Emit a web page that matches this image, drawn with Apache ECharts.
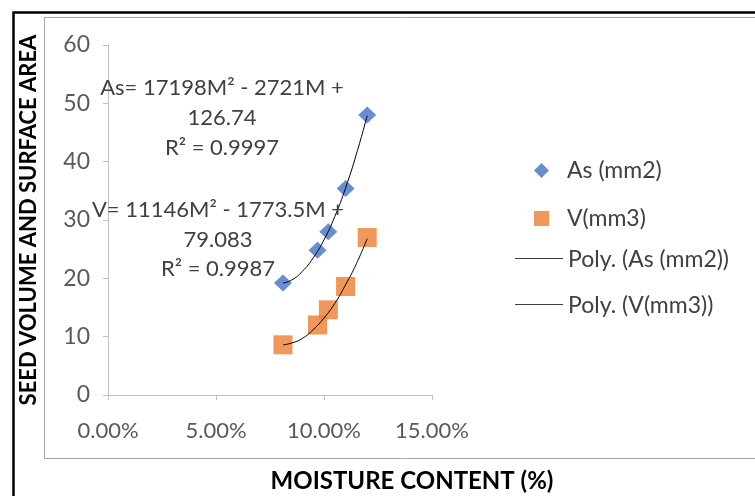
<!DOCTYPE html>
<html>
<head>
<meta charset="utf-8">
<script src="https://cdn.jsdelivr.net/npm/echarts@6/dist/echarts.min.js"></script>
<style>
html,body{margin:0;padding:0;background:#fff;}
#chart{width:755px;height:496px;}
</style>
</head>
<body>
<div id="chart"></div>
<script>
// ---- data ----
const moisture = [0.081, 0.097, 0.102, 0.110, 0.120];
const asValues = [19.2, 24.8, 28.0, 35.4, 48.0];
const vValues = [8.6, 12.0, 14.6, 18.6, 27.0];
// trend line points
const trendX = [0.081, 0.085, 0.090, 0.095, 0.100, 0.105, 0.110, 0.115, 0.120];
const asTrend = [19.2, 19.7, 21.2, 23.5, 26.6, 30.6, 35.5, 41.3, 47.9];
const vTrend = [8.6, 8.9, 9.7, 11.2, 13.2, 15.7, 18.9, 22.5, 26.8];
const seriesNames = ['As (mm2)', 'V(mm3)', 'Poly. (As (mm2))', 'Poly. (V(mm3))'];
const xTitle = 'MOISTURE CONTENT (%)';
const yTitle = 'SEED VOLUME AND SURFACE AREA';
const asEquation = ['As= 17198M\u00B2 - 2721M +', '126.74', 'R\u00B2 = 0.9997'];
const vEquation = ['V= 11146M\u00B2 - 1773.5M +', '79.083', 'R\u00B2 = 0.9987'];

const pair = (xs, ys) => xs.map((x, i) => [x, ys[i]]);
const FONT = 'Lato';
const LINE_ICON = 'path://M0,0L0.01,0Z M0,5.5H48V6.5H0Z M0,14L0.01,14Z';

const chart = echarts.init(document.getElementById('chart'), null, {renderer: 'canvas'});

function eqText(lines, cx, y0, gap) {
  return lines.map((t, i) => ({
    type: 'text', silent: true, z: 10,
    x: cx, y: y0 + i * gap,
    style: {text: t, fill: '#404040', font: '22px ' + FONT, textAlign: 'center', textVerticalAlign: 'middle'}
  }));
}

const option = {
  animation: false,
  backgroundColor: '#fff',
  grid: {left: 108, right: 323, top: 45, bottom: 101},
  xAxis: {
    type: 'value', min: 0, max: 0.15, interval: 0.05,
    axisLine: {show: true, lineStyle: {color: '#bfbfbf', width: 1}},
    axisTick: {show: true, length: 5, lineStyle: {color: '#bfbfbf'}},
    splitLine: {show: false},
    axisLabel: {fontFamily: FONT, fontSize: 22, color: '#595959', margin: 25,
      formatter: v => (v * 100).toFixed(2) + '%'}
  },
  yAxis: {
    type: 'value', min: 0, max: 60, interval: 10,
    name: yTitle, nameLocation: 'middle', nameGap: 68, nameRotate: 90,
    nameTextStyle: {fontFamily: FONT, fontWeight: 'bold', fontSize: 22, color: '#000'},
    axisLine: {show: true, lineStyle: {color: '#bfbfbf', width: 1}},
    axisTick: {show: true, length: 5, lineStyle: {color: '#bfbfbf'}},
    splitLine: {show: false},
    axisLabel: {fontFamily: FONT, fontSize: 23, color: '#595959', margin: 18}
  },
  legend: [
    {
      orient: 'vertical', left: 529, top: 154, itemWidth: 15, itemHeight: 15, itemGap: 25,
      data: [{name: seriesNames[0], icon: 'diamond'}, {name: seriesNames[1], icon: 'rect'}],
      textStyle: {fontFamily: FONT, fontSize: 23, color: '#404040', padding: [0, 0, 0, 13]},
      selectedMode: false
    },
    {
      orient: 'vertical', left: 510, top: 243, itemWidth: 48, itemHeight: 14, itemGap: 23,
      data: [{name: seriesNames[2], icon: LINE_ICON}, {name: seriesNames[3], icon: LINE_ICON}],
      itemStyle: {color: '#404040'},
      textStyle: {fontFamily: FONT, fontSize: 23, color: '#404040'},
      selectedMode: false
    }
  ],
  series: [
    {name: seriesNames[0], type: 'scatter', symbol: 'diamond', symbolSize: [18, 17],
      itemStyle: {color: '#4472C4'}, data: pair(moisture, asValues), z: 2},
    {name: seriesNames[1], type: 'scatter', symbol: 'rect', symbolSize: 19,
      itemStyle: {color: '#ED7D31'}, data: pair(moisture, vValues), z: 2},
    {name: seriesNames[2], type: 'line', smooth: true, symbol: 'none', showSymbol: false,
      lineStyle: {color: '#000', width: 1}, itemStyle: {color: '#000'},
      data: pair(trendX, asTrend), z: 3},
    {name: seriesNames[3], type: 'line', smooth: true, symbol: 'none', showSymbol: false,
      lineStyle: {color: '#000', width: 1}, itemStyle: {color: '#000'},
      data: pair(trendX, vTrend), z: 3}
  ],
  graphic: [
    {type: 'rect', silent: true, z: -1, shape: {x: 13.5, y: 12.5, width: 800, height: 600},
      style: {fill: 'none', stroke: '#000', lineWidth: 2.5}},
    {type: 'rect', silent: true, z: -1, shape: {x: 44.5, y: 17.5, width: 800, height: 441},
      style: {fill: 'none', stroke: '#a6a6a6', lineWidth: 1}},
    {type: 'text', silent: true, x: 412, y: 481,
      style: {text: xTitle, fill: '#000', font: 'bold 24px ' + FONT, textAlign: 'center', textVerticalAlign: 'middle'}},
    ...eqText(asEquation, 222, 88, 30),
    ...eqText(vEquation, 218, 210, 29.5)
  ]
};
chart.setOption(option);
</script>
</body>
</html>
